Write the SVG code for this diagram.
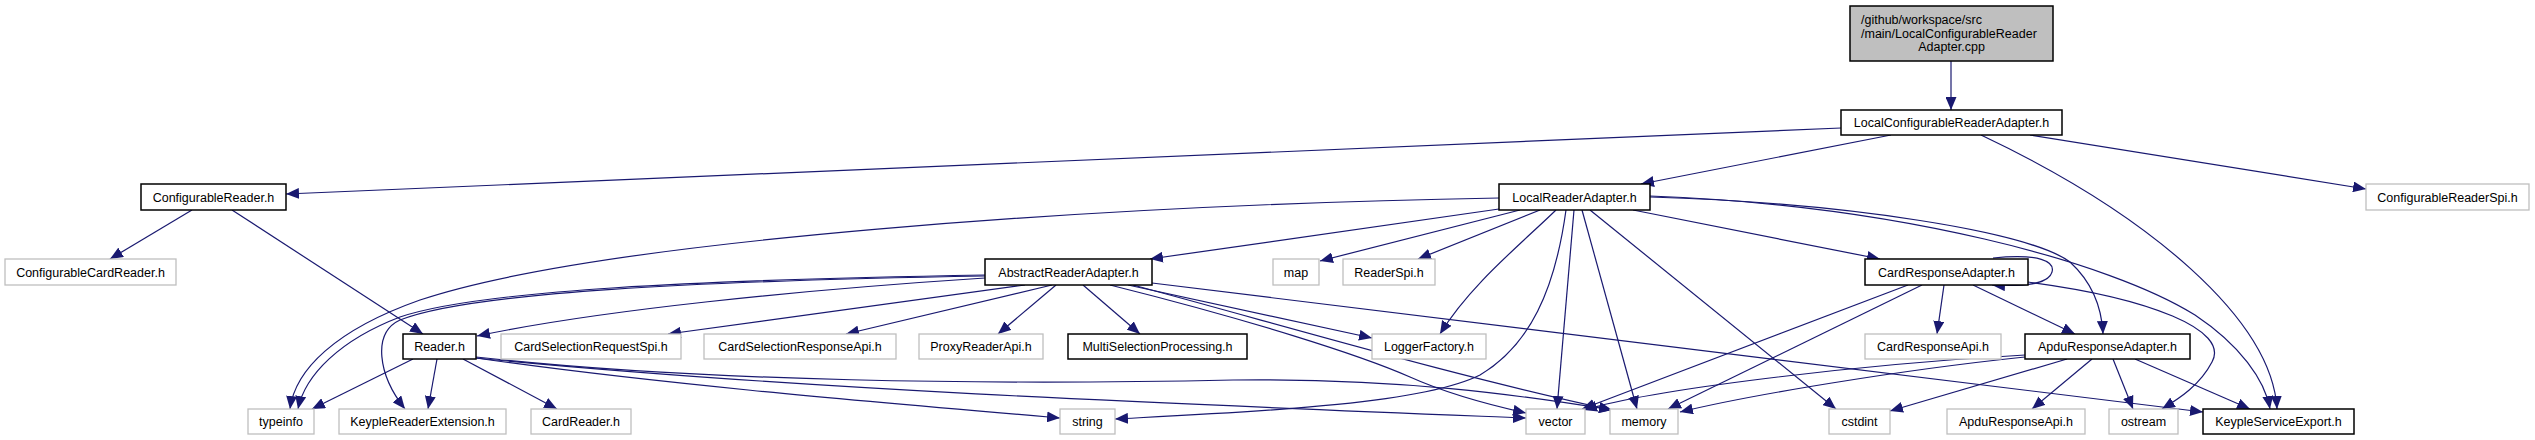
<svg xmlns="http://www.w3.org/2000/svg" width="2535" height="440" viewBox="0 0 2535 440">
<style>
.nb rect{fill:#fff;stroke:#000;stroke-width:1.5}
.ng rect{fill:#fff;stroke:#bfbfbf;stroke-width:1.3}
.top rect{fill:#bfbfbf;stroke:#000;stroke-width:1.5}
text{font-family:'Liberation Sans',Arial,Helvetica,sans-serif;font-size:12.5px;fill:#000;text-anchor:middle}
.l{text-anchor:start}
#edges path{fill:none;stroke:#191970;stroke-width:1.2;marker-end:url(#ah)}
</style>
<defs>
<marker id="ah" markerUnits="userSpaceOnUse" markerWidth="13" markerHeight="11" viewBox="0 0 13 11" refX="13" refY="5.5" orient="auto"><path d="M0,0 L13,5.5 L0,11 z" fill="#191970"/></marker>
</defs>
<rect width="2535" height="440" fill="#fff"/>
<g id="edges">
<path d="M1951,61 L1951,110"/>
<path d="M1841,128 L286,194"/>
<path d="M1891,135 L1641,184"/>
<path d="M2030,135 L2366,189"/>
<path d="M1981,135 C2150,215 2272,320 2277,409"/>
<path d="M192,210 L110,259"/>
<path d="M232,210 L423,334"/>
<path d="M1499,209 L1150,259"/>
<path d="M1520,210 L1320,261"/>
<path d="M1540,210 L1418,259"/>
<path d="M1556,210 C1520,245 1470,285 1440,334"/>
<path d="M1566,210 C1555,290 1530,345 1480,375 C1420,405 1250,412 1115,419"/>
<path d="M1574,210 L1557,409"/>
<path d="M1582,210 L1637,409"/>
<path d="M1590,210 L1836,409"/>
<path d="M1633,210 L1880,259"/>
<path d="M1650,197 C1850,203 2030,232 2070,262 C2095,285 2102,312 2103,334"/>
<path d="M1650,196 C1900,205 2110,262 2195,315 C2240,345 2265,380 2270,409"/>
<path d="M1499,198 C1100,205 600,240 420,300 C335,330 295,370 290,409"/>
<path d="M985,275 C700,280 480,290 400,317 C340,340 305,375 298,409"/>
<path d="M985,276 C700,281 470,292 400,320 C372,333 378,375 405,409"/>
<path d="M985,278 C800,290 600,310 477,336"/>
<path d="M1025,285 L668,334"/>
<path d="M1052,285 L846,334"/>
<path d="M1056,285 L998,334"/>
<path d="M1083,285 L1140,334"/>
<path d="M1128,285 L1372,338"/>
<path d="M1110,285 C1250,320 1360,355 1410,377 C1450,395 1490,405 1526,413"/>
<path d="M1133,285 C1300,330 1450,375 1612,410"/>
<path d="M1152,283 L2203,412"/>
<path d="M413,359 L312,409"/>
<path d="M437,359 L428,409"/>
<path d="M463,359 L557,409"/>
<path d="M476,358 C650,383 850,400 1060,418"/>
<path d="M476,358 C800,390 1200,405 1526,418"/>
<path d="M476,357 C700,382 1000,385 1233,380 C1400,378 1520,395 1612,410"/>
<path d="M1993,258 C2040,253 2055,262 2052,272 C2049,283 2030,287 1992,285"/>
<path d="M1944,285 L1937,334"/>
<path d="M1973,285 L2075,334"/>
<path d="M1908,285 L1582,409"/>
<path d="M1922,285 L1668,409"/>
<path d="M2028,282 C2150,298 2230,330 2212,362 C2200,385 2180,398 2162,409"/>
<path d="M2092,359 L2032,409"/>
<path d="M2113,359 L2133,409"/>
<path d="M2135,359 L2250,409"/>
<path d="M2067,359 L1890,411"/>
<path d="M2025,357 C1900,370 1750,395 1680,412"/>
<path d="M2025,355 C1850,365 1650,390 1584,410"/>
</g>
<g id="n_cpp" class="top"><rect x="1850" y="6" width="203" height="55"/><text class="l" x="1861" y="24.3">/github/workspace/src</text><text class="l" x="1861" y="37.8">/main/LocalConfigurableReader</text><text x="1951.5" y="51.3">Adapter.cpp</text></g>
<g id="n_lcra" class="nb"><rect x="1841" y="110" width="221" height="25"/><text x="1951.5" y="127">LocalConfigurableReaderAdapter.h</text></g>
<g id="n_cr" class="nb"><rect x="141" y="184" width="145" height="26"/><text x="213.5" y="201.5">ConfigurableReader.h</text></g>
<g id="n_lra" class="nb"><rect x="1499" y="184" width="151" height="26"/><text x="1574.5" y="201.5">LocalReaderAdapter.h</text></g>
<g id="n_crspi" class="ng"><rect x="2366" y="184" width="163" height="26"/><text x="2447.5" y="201.5">ConfigurableReaderSpi.h</text></g>
<g id="n_ccr" class="ng"><rect x="5" y="259" width="171" height="26"/><text x="90.5" y="276.5">ConfigurableCardReader.h</text></g>
<g id="n_ara" class="nb"><rect x="985" y="259" width="167" height="26"/><text x="1068.5" y="276.5">AbstractReaderAdapter.h</text></g>
<g id="n_map" class="ng"><rect x="1273" y="259" width="46" height="26"/><text x="1296" y="276.5">map</text></g>
<g id="n_readerspi" class="ng"><rect x="1343" y="259" width="92" height="26"/><text x="1389" y="276.5">ReaderSpi.h</text></g>
<g id="n_cresp" class="nb"><rect x="1865" y="259" width="163" height="26"/><text x="1946.5" y="276.5">CardResponseAdapter.h</text></g>
<g id="n_reader" class="nb"><rect x="403" y="334" width="73" height="25"/><text x="439.5" y="351">Reader.h</text></g>
<g id="n_csreq" class="ng"><rect x="501" y="334" width="180" height="25"/><text x="591" y="351">CardSelectionRequestSpi.h</text></g>
<g id="n_csresp" class="ng"><rect x="704" y="334" width="192" height="25"/><text x="800" y="351">CardSelectionResponseApi.h</text></g>
<g id="n_proxy" class="ng"><rect x="919" y="334" width="124" height="25"/><text x="981" y="351">ProxyReaderApi.h</text></g>
<g id="n_msp" class="nb"><rect x="1068" y="334" width="179" height="25"/><text x="1157.5" y="351">MultiSelectionProcessing.h</text></g>
<g id="n_logger" class="ng"><rect x="1372" y="334" width="114" height="25"/><text x="1429" y="351">LoggerFactory.h</text></g>
<g id="n_crapi" class="ng"><rect x="1865" y="334" width="136" height="25"/><text x="1933" y="351">CardResponseApi.h</text></g>
<g id="n_apdura" class="nb"><rect x="2025" y="334" width="165" height="25"/><text x="2107.5" y="351">ApduResponseAdapter.h</text></g>
<g id="n_typeinfo" class="ng"><rect x="248" y="409" width="66" height="25"/><text x="281" y="425.5">typeinfo</text></g>
<g id="n_kre" class="ng"><rect x="339" y="409" width="167" height="25"/><text x="422.5" y="425.5">KeypleReaderExtension.h</text></g>
<g id="n_cardreader" class="ng"><rect x="531" y="409" width="100" height="25"/><text x="581" y="425.5">CardReader.h</text></g>
<g id="n_string" class="ng"><rect x="1060" y="409" width="55" height="25"/><text x="1087.5" y="425.5">string</text></g>
<g id="n_vector" class="ng"><rect x="1526" y="409" width="59" height="25"/><text x="1555.5" y="425.5">vector</text></g>
<g id="n_memory" class="ng"><rect x="1610" y="409" width="68" height="25"/><text x="1644" y="425.5">memory</text></g>
<g id="n_cstdint" class="ng"><rect x="1829" y="409" width="61" height="25"/><text x="1859.5" y="425.5">cstdint</text></g>
<g id="n_apduapi" class="ng"><rect x="1947" y="409" width="138" height="25"/><text x="2016" y="425.5">ApduResponseApi.h</text></g>
<g id="n_ostream" class="ng"><rect x="2109" y="409" width="69" height="25"/><text x="2143.5" y="425.5">ostream</text></g>
<g id="n_kse" class="nb"><rect x="2203" y="409" width="151" height="25"/><text x="2278.5" y="425.5">KeypleServiceExport.h</text></g>
</svg>
